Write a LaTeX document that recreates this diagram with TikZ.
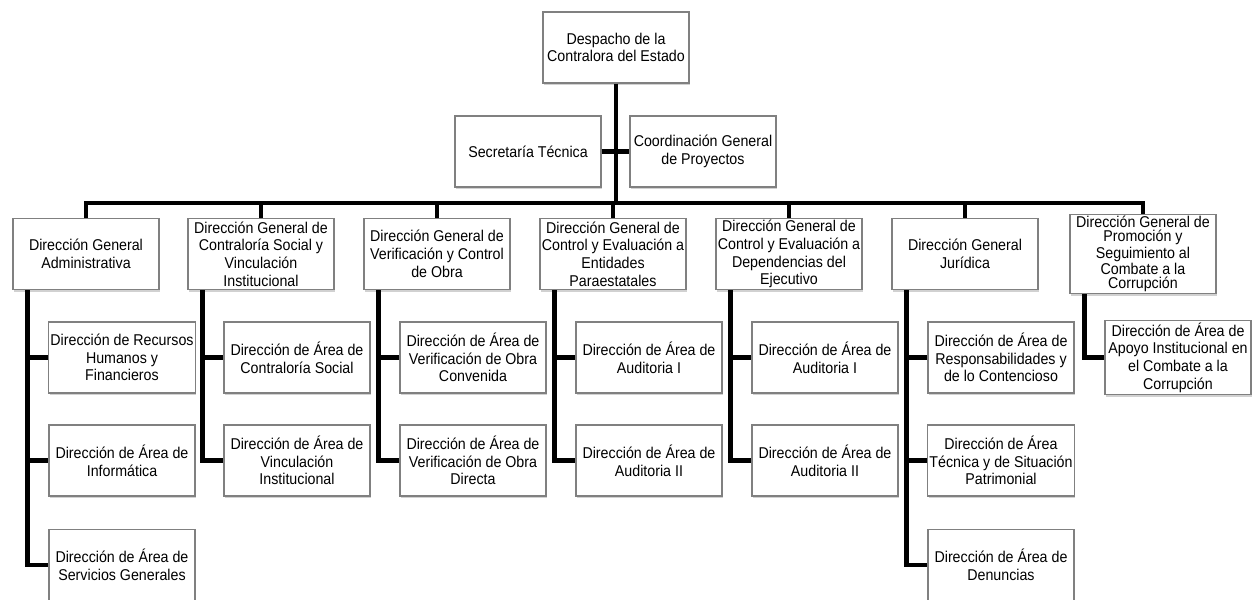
\documentclass[tikz,border=0pt]{standalone}
\usepackage{fontspec}
\setmainfont{Liberation Sans}[FakeStretch=0.91]
\usetikzlibrary{shadows}

\tikzset{
  caja/.style={draw=black!50,line width=0.6pt,fill=white,align=center,
    minimum width=2.92cm,minimum height=1.42cm,inner sep=1pt,
    font=\fontsize{8.9}{10.1}\selectfont,
    drop shadow={shadow xshift=0.6pt,shadow yshift=-1.4pt,opacity=0.3,fill=black!60}},
  enlace/.style={line width=2.7pt,black}
}

\begin{document}
\begin{tikzpicture}[x=0.02cm,y=-0.02cm]
\useasboundingbox (0,0) rectangle (1255,599);
\clip (0,0) rectangle (1255,599);
% despacho y apoyo
\node[caja] (despacho) at (616,47.5) {Despacho de la\\Contralora del Estado};
\node[caja] (sectec) at (528,151.5) {Secretaría Técnica};
\node[caja] (coordgral) at (703,151.5) {Coordinación General\\de Proyectos};
\coordinate (bus) at (616,203);
% direcciones generales
\node[caja] (dgadm) at (86,254) {Dirección General\\Administrativa};
\node[caja] (dgcs) at (261,254) {Dirección General de\\Contraloría Social y\\Vinculación\\Institucional};
\node[caja] (dgvo) at (437,254) {Dirección General de\\Verificación y Control\\de Obra};
\node[caja] (dgcep) at (613,254) {Dirección General de\\Control y Evaluación a\\Entidades\\Paraestatales};
\node[caja] (dgced) at (789,254) {Dirección General de\\Control y Evaluación a\\Dependencias del\\Ejecutivo};
\node[caja] (dgjur) at (965,254) {Dirección General\\Jurídica};
\node[caja,font=\fontsize{8.9}{8}\selectfont] (dgps) at (1143,254) {Dirección General de\\Promoción y\\Seguimiento al\\Combate a la\\Corrupción};
% direcciones de area
\node[caja] (darh) at (122,357.5) {Dirección de Recursos\\Humanos y\\Financieros};
\node[caja] (dainf) at (122,460.5) {Dirección de Área de\\Informática};
\node[caja] (dasg) at (122,565) {Dirección de Área de\\Servicios Generales};
\node[caja] (dacs) at (297,357.5) {Dirección de Área de\\Contraloría Social};
\node[caja] (davi) at (297,460.5) {Dirección de Área de\\Vinculación\\Institucional};
\node[caja] (davoc) at (473,357.5) {Dirección de Área de\\Verificación de Obra\\Convenida};
\node[caja] (davod) at (473,460.5) {Dirección de Área de\\Verificación de Obra\\Directa};
\node[caja] (daep1) at (649,357.5) {Dirección de Área de\\Auditoria I};
\node[caja] (daep2) at (649,460.5) {Dirección de Área de\\Auditoria II};
\node[caja] (dade1) at (825,357.5) {Dirección de Área de\\Auditoria I};
\node[caja] (dade2) at (825,460.5) {Dirección de Área de\\Auditoria II};
\node[caja] (darc) at (1001,357.5) {Dirección de Área de\\Responsabilidades y\\de lo Contencioso};
\node[caja] (datsp) at (1001,460.5) {Dirección de Área\\Técnica y de Situación\\Patrimonial};
\node[caja] (dad) at (1001,565) {Dirección de Área de\\Denuncias};
\node[caja] (daai) at (1178,357.5) {Dirección de Área de\\Apoyo Institucional en\\el Combate a la\\Corrupción};
% lineas de mando
\draw[enlace] (despacho.south) -- (bus);
\draw[enlace] (sectec.east) -- (coordgral.west);
\draw[enlace] (dgadm.north) |- (bus);
\draw[enlace] (dgcs.north) |- (bus);
\draw[enlace] (dgvo.north) |- (bus);
\draw[enlace] (dgcep.north) |- (bus);
\draw[enlace] (dgced.north) |- (bus);
\draw[enlace] (dgjur.north) |- (bus);
\draw[enlace] (dgps.north) |- (bus);
\draw[enlace] ([xshift=0.3cm]dgadm.south west) |- (darh.west);
\draw[enlace] ([xshift=0.3cm]dgadm.south west) |- (dainf.west);
\draw[enlace] ([xshift=0.3cm]dgadm.south west) |- (dasg.west);
\draw[enlace] ([xshift=0.3cm]dgcs.south west) |- (dacs.west);
\draw[enlace] ([xshift=0.3cm]dgcs.south west) |- (davi.west);
\draw[enlace] ([xshift=0.3cm]dgvo.south west) |- (davoc.west);
\draw[enlace] ([xshift=0.3cm]dgvo.south west) |- (davod.west);
\draw[enlace] ([xshift=0.3cm]dgcep.south west) |- (daep1.west);
\draw[enlace] ([xshift=0.3cm]dgcep.south west) |- (daep2.west);
\draw[enlace] ([xshift=0.3cm]dgced.south west) |- (dade1.west);
\draw[enlace] ([xshift=0.3cm]dgced.south west) |- (dade2.west);
\draw[enlace] ([xshift=0.3cm]dgjur.south west) |- (darc.west);
\draw[enlace] ([xshift=0.3cm]dgjur.south west) |- (datsp.west);
\draw[enlace] ([xshift=0.3cm]dgjur.south west) |- (dad.west);
\draw[enlace] ([xshift=0.3cm]dgps.south west) |- (daai.west);
\end{tikzpicture}
\end{document}
